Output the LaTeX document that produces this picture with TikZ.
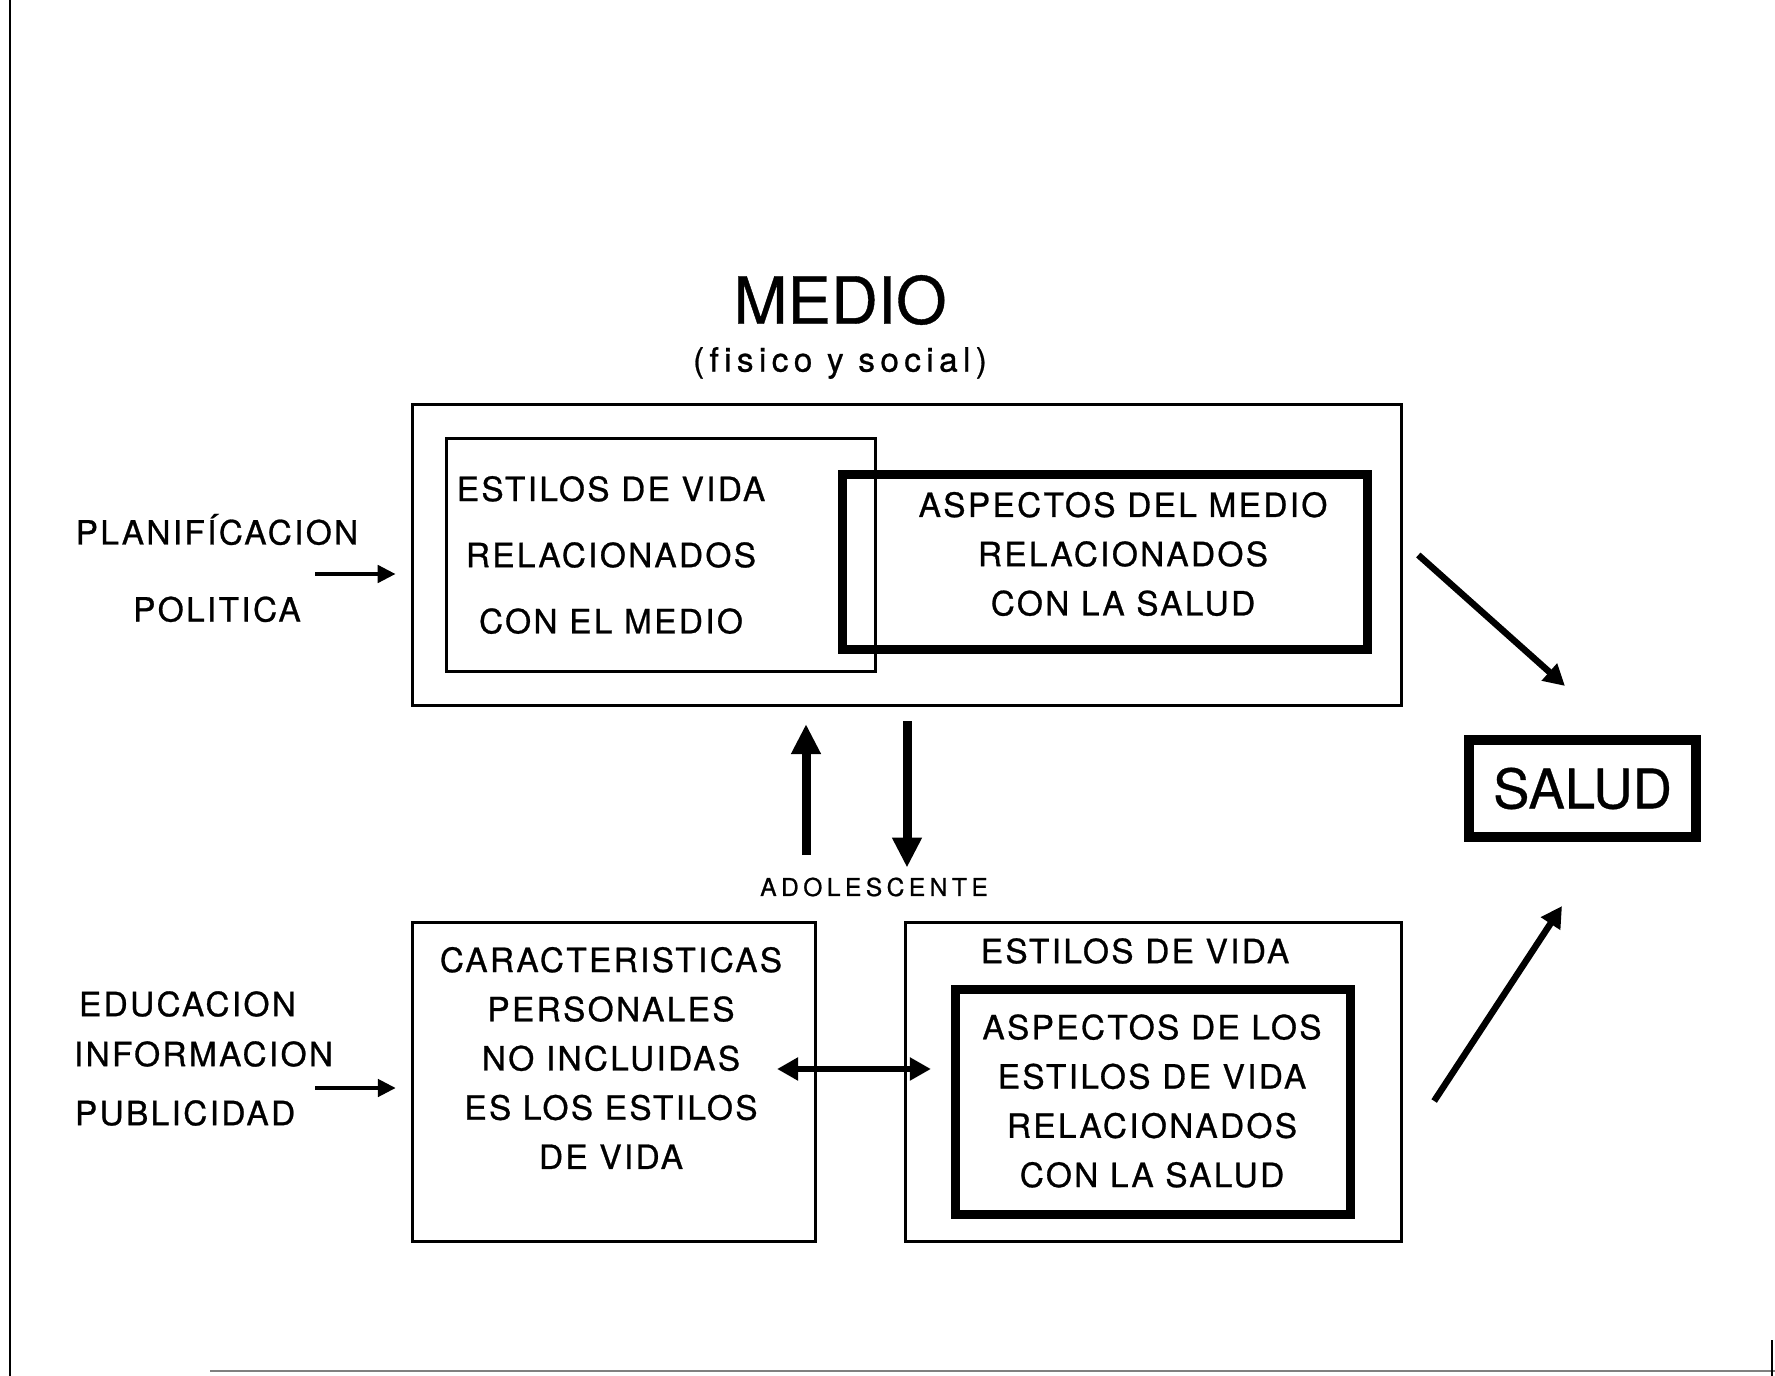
\documentclass[tikz,border=0pt]{standalone}
\usepackage{fontspec}
\setmainfont{TeX Gyre Heros}[FakeBold=0.6]
\newfontfamily\spaced[LetterSpace=7,FakeBold=0.8]{TeX Gyre Heros}
\newfontfamily\widespaced[LetterSpace=18,FakeBold=0.8]{TeX Gyre Heros}
\newfontfamily\lowspaced[LetterSpace=16,FakeBold=0.8,Ligatures=NoCommon]{TeX Gyre Heros}
\usetikzlibrary{arrows.meta,positioning}

\begin{document}
\begin{tikzpicture}[x=0.01cm,y=-0.01cm,line join=miter,
bigarrow/.style={-{Triangle[length=0.3cm,width=0.28cm]},line width=0.09cm},
midarrow/.style={-{Triangle[length=0.21cm,width=0.22cm]},line width=0.065cm},
smallarrow/.style={-{Triangle[length=0.18cm,width=0.17cm]},line width=0.045cm}]
\tikzstyle{every node}=[inner sep=0pt,outer sep=0pt]
\tikzstyle{thinbox}=[draw,line width=0.03cm]
\tikzstyle{thickbox}=[draw,line width=0.09cm]
\tikzstyle{boxtext}=[align=center,font=\spaced\fontsize{9.5}{14}\selectfont]
\useasboundingbox (0,0) rectangle (1775,1376);
% scan borders
\draw[line width=0.02cm] (10,0) -- (10,1376);
\draw[line width=0.02cm,gray] (210,1371) -- (1775,1371);
\draw[line width=0.02cm] (1772,1340) -- (1772,1376);
% titles
\node (titulo) at (840,300) {\fontsize{18.5}{22}\selectfont MEDIO};
\node (subtitulo) at (840,363) {\lowspaced\fontsize{9.5}{12}\selectfont (fisico y social)};
% medio
\node[thinbox,minimum width=9.88cm,minimum height=3cm] (medio) at (907,555) {};
\node[thickbox,minimum width=5.25cm,minimum height=1.75cm] (aspmed) at (1105,562) {};
\node[thinbox,minimum width=4.28cm,minimum height=2.32cm] (estmed) at (661,555) {};
\node[boxtext,font=\spaced\fontsize{9.5}{18.8}\selectfont] (estmedtxt) at (611,555)
  {ESTILOS DE VIDA\\RELACIONADOS\\CON EL MEDIO};
\node[boxtext] (aspmedtxt) at (1123,554)
  {ASPECTOS DEL MEDIO\\RELACIONADOS\\CON LA SALUD};
\node[boxtext,font=\spaced\fontsize{9.5}{21.9}\selectfont] (planif) at (217,568)
  {PLANIFÍCACION\\POLITICA};
% adolescente
\node (adol) at (874,887) {\widespaced\fontsize{7}{9}\selectfont ADOLESCENTE};
\node[thinbox,minimum width=4.02cm,minimum height=3.18cm] (carac) at (614,1082) {};
\node[thinbox,minimum width=4.95cm,minimum height=3.18cm] (estilos) at (1153.5,1082) {};
\node[thickbox,minimum width=3.95cm,minimum height=2.25cm] (aspest) at (1153,1102) {};
\node[boxtext] (caractxt) at (611,1058)
  {CARACTERISTICAS\\PERSONALES\\NO INCLUIDAS\\ES LOS ESTILOS\\DE VIDA};
\node[boxtext] (estilostxt) at (1135,951) {ESTILOS DE VIDA};
\node[boxtext] (aspesttxt) at (1152,1101)
  {ASPECTOS DE LOS\\ESTILOS DE VIDA\\RELACIONADOS\\CON LA SALUD};
\node[boxtext,anchor=west] (edu) at (79,1004) {EDUCACION};
\node[boxtext,anchor=west] (info) at (74,1054) {INFORMACION};
\node[boxtext,anchor=west] (publi) at (75,1113) {PUBLICIDAD};
% salud
\node[draw,line width=0.1cm,minimum width=2.27cm,minimum height=0.97cm] (salud) at (1582.5,788.5)
  {\fontsize{15.5}{18}\selectfont SALUD};
% arrows
\coordinate (pa) at (315,574);
\coordinate (ea) at (315,1088);
\coordinate (ua) at (806,855);
\draw[smallarrow,shorten >=0.17cm] (pa) -- (pa -| medio.west);
\draw[smallarrow,shorten >=0.17cm] (ea) -- (ea -| carac.west);
\draw[bigarrow,shorten >=0.19cm] (ua) -- (ua |- medio.south);
\draw[bigarrow,shorten <=0.16cm,shorten >=0.1cm] (medio.south) -- (medio.south |- adol.north);
\draw[midarrow,{Triangle[length=0.21cm,width=0.22cm]}-{Triangle[length=0.21cm,width=0.22cm]}]
  ([shift={(-0.38cm,0.13cm)}]carac.east) -- ([shift={(0.25cm,0.13cm)}]estilos.west);
\draw[midarrow] ([xshift=0.17cm]medio.east) -- ([shift={(-0.175cm,0.54cm)}]salud.north);
\draw[midarrow] ([shift={(0.33cm,-0.19cm)}]estilos.east) -- ([shift={(-0.205cm,-0.69cm)}]salud.south);
\end{tikzpicture}
\end{document}
